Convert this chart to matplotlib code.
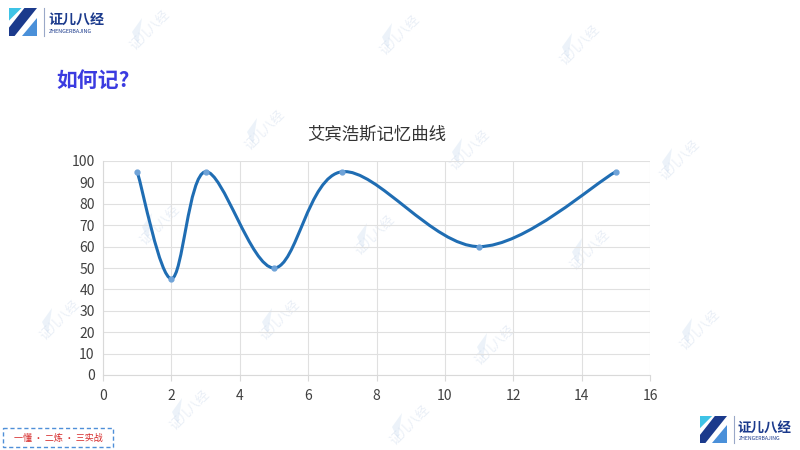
import matplotlib.pyplot as plt
from matplotlib.path import Path
from matplotlib.patches import PathPatch, Polygon, Rectangle

plt.rcParams['font.family'] = ['Noto Sans CJK SC', 'DejaVu Sans']

# data
days = [1, 2, 3, 5, 7, 11, 15]
memory = [95, 45, 95, 50, 95, 60, 95]
x_ticks = [0, 2, 4, 6, 8, 10, 12, 14, 16]
y_ticks = [0, 10, 20, 30, 40, 50, 60, 70, 80, 90, 100]

chart_title = "艾宾浩斯记忆曲线"
page_title = "如何记?"
slogan = "一懂 · 二炼 · 三实战"
brand = "证儿八经"
brand_en = "ZHENGERBAJING"

NAVY = "#1b3a8c"
CYAN = "#3ec3e6"
LINE = "#1f6db3"
DOT = "#6fa3d8"


def smooth_path(xs, ys):
    # Excel-like smoothed line: cubic bezier, control points from neighbours
    pts = list(zip(xs, ys))
    n = len(pts)
    verts = [pts[0]]
    codes = [Path.MOVETO]
    for i in range(n - 1):
        p0 = pts[i - 1] if i > 0 else pts[i]
        p1 = pts[i]
        p2 = pts[i + 1]
        p3 = pts[i + 2] if i + 2 < n else pts[i + 1]
        c1 = (p1[0] + (p2[0] - p0[0]) / 6, p1[1] + (p2[1] - p0[1]) / 6)
        c2 = (p2[0] - (p3[0] - p1[0]) / 6, p2[1] - (p3[1] - p1[1]) / 6)
        verts += [c1, c2, p2]
        codes += [Path.CURVE4] * 3
    return Path(verts, codes)


def draw_logo(ax, x, y, s):
    # small "Z" brand mark, pixel coordinates, y downward
    ax.add_patch(Polygon([(x, y), (x + 0.45 * s, y), (x, y + 0.45 * s)],
                         closed=True, color=CYAN, lw=0))
    ax.add_patch(Polygon([(x + 0.55 * s, y), (x + s, y), (x + 0.2 * s, y + s), (x, y + s), (x, y + 0.7 * s)],
                         closed=True, color=NAVY, lw=0))
    ax.add_patch(Polygon([(x + s, y + 0.35 * s), (x + s, y + s), (x + 0.45 * s, y + s)],
                         closed=True, color="#4a90d9", lw=0))
    ax.plot([x + 1.25 * s, x + 1.25 * s], [y, y + s], color="#9aa8c8", lw=0.8)
    ax.text(x + 1.4 * s, y + 0.42 * s, brand, color=NAVY, fontsize=s * 0.36,
            fontweight='bold', va='center', ha='left')
    ax.text(x + 1.42 * s, y + 0.85 * s, brand_en, color=NAVY, fontsize=s * 0.14,
            va='center', ha='left')


fig = plt.figure(figsize=(8, 4.5), dpi=100)

# background layer in pixel coordinates
bg = fig.add_axes([0, 0, 1, 1])
bg.set_xlim(0, 800)
bg.set_ylim(450, 0)
bg.axis('off')

# faint watermarks
for wx, wy in [(150, 30), (400, 35), (580, 45), (265, 130), (470, 150), (680, 160),
               (160, 225), (375, 235), (590, 250), (280, 320), (495, 345), (60, 320),
               (700, 330), (190, 410), (410, 425)]:
    bg.text(wx, wy, brand, color="#c8d6ea", alpha=0.4, fontsize=9,
            rotation=45, ha='center', va='center')
    bg.add_patch(Polygon([(wx - 18, wy + 2), (wx - 8, wy - 12), (wx - 12, wy + 14)],
                         closed=True, color="#c9dcef", alpha=0.35, lw=0))

draw_logo(bg, 9, 8, 28)
draw_logo(bg, 700, 416, 27)

bg.text(56, 80, page_title, color="#3b3be0", fontsize=15, fontweight='bold',
        ha='left', va='center')

bg.add_patch(Rectangle((3, 428), 110, 19, fill=False, edgecolor="#4f8fd8",
                       lw=1.0, ls=(0, (3, 2))))
bg.text(58, 438, slogan, color="#d62b2b", fontsize=6.5, ha='center', va='center')

# chart
ax = fig.add_axes([103 / 800, 1 - 375 / 450, (650 - 103) / 800, (375 - 161) / 450])
ax.set_facecolor('none')
ax.patch.set_alpha(0)
ax.set_xlim(0, 16)
ax.set_ylim(0, 100)
ax.set_xticks(x_ticks)
ax.set_yticks(y_ticks)
ax.grid(True, color="#e0e0e0", lw=0.8)
ax.set_axisbelow(True)
for side in ['top', 'right']:
    ax.spines[side].set_visible(False)
ax.spines['left'].set_color("#d9d9d9")
ax.spines['bottom'].set_color("#d9d9d9")
ax.tick_params(axis='y', length=0, labelsize=10, colors="#404040", pad=6)
ax.tick_params(axis='x', length=4, color="#d9d9d9", labelsize=10, labelcolor="#404040", pad=6)

ax.add_patch(PathPatch(smooth_path(days, memory), facecolor='none',
                       edgecolor=LINE, lw=2.2, capstyle='round'))
ax.plot(days, memory, 'o', color=DOT, markersize=3.5, zorder=3)

ax.set_title(chart_title, fontsize=12.5, color="#333333", pad=15)

fig.savefig("out.png", dpi=100)
